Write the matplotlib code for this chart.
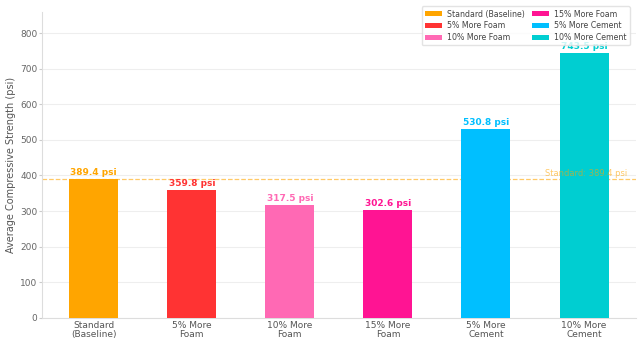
import matplotlib
matplotlib.use("Agg")
import matplotlib.pyplot as plt

categories = ["Standard\n(Baseline)", "5% More\nFoam", "10% More\nFoam",
              "15% More\nFoam", "5% More\nCement", "10% More\nCement"]
legend_names = ["Standard (Baseline)", "5% More Foam", "10% More Foam",
                "15% More Foam", "5% More Cement", "10% More Cement"]
strength = [389.4, 359.8, 317.5, 302.6, 530.8, 743.5]
colors = ["#FFA500", "#FF3333", "#FF69B4", "#FF1493", "#00BFFF", "#00CED1"]
baseline = strength[0]

fig = plt.figure(figsize=(6.4, 3.44), dpi=100)
ax = fig.add_axes([0.066, 0.076, 0.927, 0.89])

bars = ax.bar(range(len(strength)), strength, width=0.5, color=colors,
              label=legend_names, zorder=3)

for b, v, c in zip(bars, strength, colors):
    ax.text(b.get_x() + b.get_width() / 2, v + 6, f"{v:.1f} psi",
            ha="center", va="bottom", fontsize=6.5, fontweight="bold", color=c)

ax.axhline(baseline, color="#FFA500", linestyle="--", linewidth=0.9, alpha=0.6, zorder=2)
ax.text(5.44, baseline + 4, f"Standard: {baseline} psi", ha="right", va="bottom",
        fontsize=6, color="#FFA500", alpha=0.6)

ax.set_xticks(range(len(categories)))
ax.set_xticklabels(categories, fontsize=6.5, color="#555555", linespacing=1.1)
ax.set_ylim(0, 860)
ax.set_yticks(range(0, 801, 100))
ax.tick_params(axis="y", labelsize=6.5, colors="#666666", length=2, pad=1.5, color="#cccccc")
ax.tick_params(axis="x", length=0, pad=2)
ax.set_ylabel("Average Compressive Strength (psi)", fontsize=7, color="#555555", labelpad=3)

ax.grid(axis="y", color="#eeeeee", linewidth=0.8, zorder=0)
for s in ["top", "right"]:
    ax.spines[s].set_visible(False)
for s in ["left", "bottom"]:
    ax.spines[s].set_color("#dddddd")

ax.legend(ncol=2, loc="upper right", bbox_to_anchor=(0.997, 1.03), fontsize=5.7,
          frameon=True, edgecolor="#dddddd", handlelength=2.2, handleheight=0.6,
          columnspacing=0.9, labelspacing=0.35, handletextpad=0.6,
          labelcolor="#444444", borderpad=0.4)

fig.savefig("out.png", dpi=100)
